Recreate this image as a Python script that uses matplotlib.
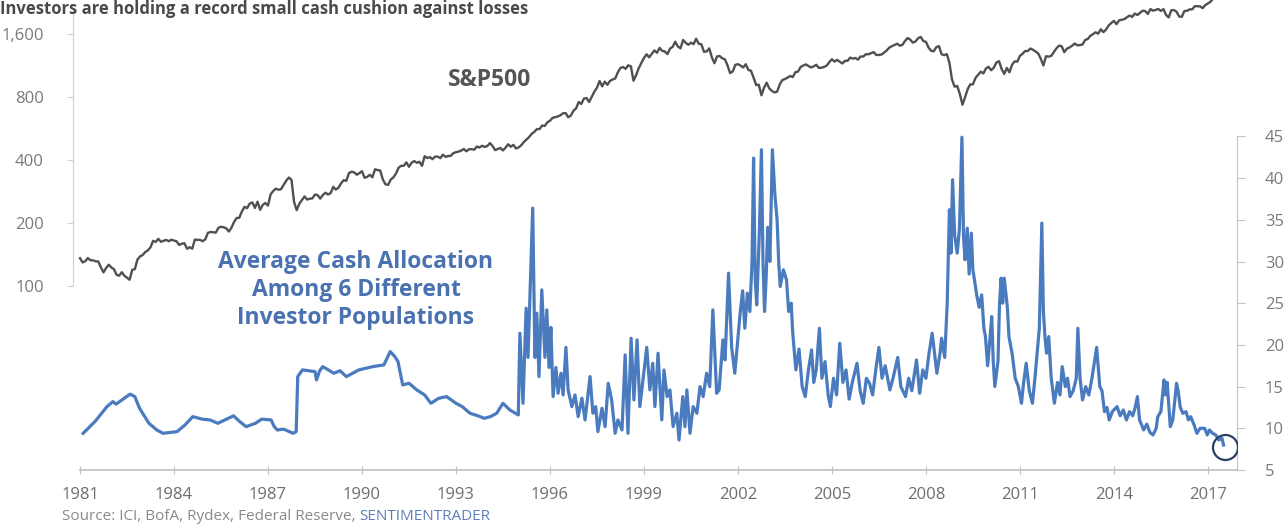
import matplotlib
matplotlib.use("Agg")
import matplotlib.pyplot as plt

# ---------------- data ----------------
title_text = "Investors are holding a record small cash cushion against losses"
source_text = "Source: ICI, BofA, Rydex, Federal Reserve, "
source_brand = "SENTIMENTRADER"

sp_start_year = 1981.0
sp_start_value = 135.8
# S&P 500 month-end closes, Jan 1981 .. Jul 2017
sp_monthly = [
    129.6, 131.3, 136.0, 132.8, 132.6, 131.2, 130.9, 122.8, 116.2, 121.9, 126.4, 122.6,
    120.4, 113.1, 112.0, 116.4, 111.9, 109.6, 107.1, 119.5, 120.4, 133.7, 138.5, 140.6,
    145.3, 148.1, 153.0, 164.4, 162.4, 168.1, 162.6, 164.4, 166.1, 163.6, 166.4, 164.9,
    163.4, 157.1, 159.2, 160.1, 150.6, 153.2, 150.7, 166.7, 166.1, 166.1, 163.6, 167.2,
    179.6, 181.2, 180.7, 179.8, 189.6, 191.9, 190.9, 188.6, 182.1, 189.8, 202.2, 211.3,
    211.8, 226.9, 238.9, 235.5, 247.4, 250.8, 236.1, 252.9, 231.3, 244.0, 249.2, 242.2,
    274.1, 284.2, 291.7, 288.4, 290.1, 304.0, 318.7, 329.8, 321.8, 251.8, 230.3, 247.1,
    257.1, 267.8, 258.9, 261.3, 262.2, 273.5, 272.0, 261.5, 271.9, 279.0, 273.7, 277.7,
    297.5, 288.9, 294.9, 309.6, 320.5, 318.0, 346.1, 351.5, 349.2, 340.4, 346.0, 353.4,
    329.1, 331.9, 339.9, 330.8, 361.2, 358.0, 356.2, 322.6, 306.1, 304.0, 322.2, 330.2,
    343.9, 367.1, 375.2, 375.3, 389.8, 371.2, 387.8, 395.4, 387.9, 392.5, 375.2, 417.1,
    408.8, 412.7, 403.7, 415.0, 415.4, 408.1, 424.2, 414.0, 417.8, 418.7, 431.4, 435.7,
    438.8, 443.4, 451.7, 440.2, 450.2, 450.5, 448.1, 463.6, 458.9, 467.8, 461.8, 466.5,
    481.6, 467.1, 445.8, 450.9, 456.5, 444.3, 458.3, 475.5, 462.7, 472.4, 453.7, 459.3,
    470.4, 487.4, 500.7, 514.7, 533.4, 544.8, 562.1, 561.9, 584.4, 581.5, 605.4, 615.9,
    636.0, 640.4, 645.5, 654.2, 669.1, 670.6, 640.0, 652.0, 687.3, 705.3, 757.0, 740.7,
    786.2, 790.8, 757.1, 801.3, 848.3, 885.1, 954.3, 899.5, 947.3, 914.6, 955.4, 970.4,
    980.3, 1049.3, 1101.8, 1111.8, 1090.8, 1133.8, 1120.7, 957.3, 1017.0, 1098.7, 1163.6, 1229.2,
    1279.6, 1238.3, 1286.4, 1335.2, 1301.8, 1372.7, 1328.7, 1320.4, 1282.7, 1362.9, 1388.9, 1469.3,
    1394.5, 1366.4, 1498.6, 1452.4, 1420.6, 1454.6, 1430.8, 1517.7, 1436.5, 1429.4, 1315.2, 1320.3,
    1366.0, 1239.9, 1160.3, 1249.5, 1255.8, 1224.4, 1211.2, 1133.6, 1040.9, 1059.8, 1139.5, 1148.1,
    1130.2, 1106.7, 1147.4, 1076.9, 1067.1, 989.8, 911.6, 916.1, 815.3, 885.8, 936.3, 879.8,
    855.7, 841.2, 848.2, 916.9, 963.6, 974.5, 990.3, 1008.0, 996.0, 1050.7, 1058.2, 1111.9,
    1131.1, 1144.9, 1126.2, 1107.3, 1120.7, 1140.8, 1101.7, 1104.2, 1114.6, 1130.2, 1173.8, 1211.9,
    1181.3, 1203.6, 1180.6, 1156.9, 1191.5, 1191.3, 1234.2, 1220.3, 1228.8, 1207.0, 1249.5, 1248.3,
    1280.1, 1280.7, 1294.8, 1310.6, 1270.1, 1270.2, 1276.7, 1303.8, 1335.9, 1377.9, 1400.6, 1418.3,
    1438.2, 1406.8, 1420.9, 1482.4, 1530.6, 1503.4, 1455.3, 1474.0, 1526.8, 1549.4, 1481.1, 1468.4,
    1378.6, 1330.6, 1322.7, 1385.6, 1400.4, 1280.0, 1267.4, 1282.8, 1166.4, 968.8, 896.2, 903.3,
    825.9, 735.1, 797.9, 872.8, 919.1, 919.3, 987.5, 1020.6, 1057.1, 1036.2, 1095.6, 1115.1,
    1073.9, 1104.5, 1169.4, 1186.7, 1089.4, 1030.7, 1101.6, 1049.3, 1141.2, 1183.3, 1180.6, 1257.6,
    1286.1, 1327.2, 1325.8, 1363.6, 1345.2, 1320.6, 1292.3, 1218.9, 1131.4, 1253.3, 1247.0, 1257.6,
    1312.4, 1365.7, 1408.5, 1397.9, 1310.3, 1362.2, 1379.3, 1406.6, 1440.7, 1412.2, 1416.2, 1426.2,
    1498.1, 1514.7, 1569.2, 1597.6, 1630.7, 1606.3, 1685.7, 1633.0, 1681.6, 1756.5, 1805.8, 1848.4,
    1782.6, 1859.5, 1872.3, 1884.0, 1923.6, 1960.2, 1930.7, 2003.4, 1972.3, 2018.1, 2067.6, 2058.9,
    1995.0, 2104.5, 2067.9, 2085.5, 2107.4, 2063.1, 2103.8, 1972.2, 1920.0, 2079.4, 2080.4, 2043.9,
    1940.2, 1932.2, 2059.7, 2065.3, 2097.0, 2098.9, 2173.6, 2171.0, 2168.3, 2126.2, 2198.8, 2238.8,
    2278.9, 2363.6, 2362.7, 2384.2, 2411.8, 2423.4, 2470.3,
]

cash_dates = [
    1981.1, 1981.5, 1981.86, 1982.05, 1982.15, 1982.3, 1982.6, 1982.75, 1982.9, 1983.05,
    1983.2, 1983.45, 1983.65, 1984.1, 1984.35, 1984.6, 1984.9, 1985.15, 1985.4, 1985.9,
    1986.1, 1986.3, 1986.6, 1986.8, 1987.1, 1987.2, 1987.3, 1987.5, 1987.8, 1987.9,
    1987.95, 1988.1, 1988.5, 1988.55, 1988.65, 1988.75, 1989.1, 1989.3, 1989.5, 1989.9,
    1990.35, 1990.7, 1990.9, 1991.05, 1991.15, 1991.3, 1991.5, 1991.75, 1992.0, 1992.2,
    1992.45, 1992.7, 1993.0, 1993.2, 1993.45, 1993.7, 1993.9, 1994.1, 1994.3, 1994.5,
    1994.72, 1994.99, 1995.04, 1995.14, 1995.24, 1995.3, 1995.45, 1995.52, 1995.58, 1995.65,
    1995.74, 1995.84, 1995.9, 1995.97, 1996.03, 1996.1, 1996.19, 1996.26, 1996.35, 1996.42,
    1996.51, 1996.58, 1996.7, 1996.8, 1996.9, 1997.02, 1997.12, 1997.28, 1997.37, 1997.46,
    1997.53, 1997.66, 1997.76, 1997.86, 1997.97, 1998.08, 1998.17, 1998.3, 1998.4, 1998.49,
    1998.59, 1998.68, 1998.78, 1998.87, 1998.97, 1999.09, 1999.19, 1999.28, 1999.35, 1999.45,
    1999.57, 1999.64, 1999.74, 1999.83, 1999.93, 2000.05, 2000.12, 2000.24, 2000.31, 2000.37,
    2000.47, 2000.57, 2000.69, 2000.79, 2000.89, 2001.0, 2001.1, 2001.2, 2001.32, 2001.4,
    2001.52, 2001.59, 2001.7, 2001.8, 2001.9, 2002.07, 2002.15, 2002.22, 2002.3, 2002.38,
    2002.45, 2002.5, 2002.55, 2002.6, 2002.68, 2002.75, 2002.8, 2002.85, 2002.9, 2002.95,
    2003.02, 2003.1, 2003.18, 2003.25, 2003.3, 2003.35, 2003.45, 2003.55, 2003.62, 2003.7,
    2003.75, 2003.85, 2003.95, 2004.05, 2004.15, 2004.25, 2004.35, 2004.42, 2004.5, 2004.6,
    2004.68, 2004.78, 2004.88, 2004.95, 2005.05, 2005.15, 2005.25, 2005.35, 2005.45, 2005.55,
    2005.65, 2005.8, 2005.9, 2006.0, 2006.1, 2006.2, 2006.3, 2006.4, 2006.5, 2006.6,
    2006.7, 2006.85, 2006.95, 2007.1, 2007.2, 2007.35, 2007.45, 2007.55, 2007.7, 2007.8,
    2007.9, 2008.0, 2008.1, 2008.2, 2008.35, 2008.45, 2008.5, 2008.6, 2008.68, 2008.75,
    2008.8, 2008.85, 2008.92, 2009.0, 2009.07, 2009.15, 2009.2, 2009.25, 2009.32, 2009.38,
    2009.45, 2009.5, 2009.55, 2009.62, 2009.7, 2009.78, 2009.85, 2009.9, 2009.97, 2010.05,
    2010.1, 2010.15, 2010.2, 2010.3, 2010.35, 2010.4, 2010.45, 2010.5, 2010.6, 2010.65,
    2010.75, 2010.85, 2010.95, 2011.05, 2011.12, 2011.2, 2011.3, 2011.4, 2011.48, 2011.55,
    2011.62, 2011.7, 2011.75, 2011.8, 2011.85, 2011.92, 2012.0, 2012.1, 2012.2, 2012.28,
    2012.35, 2012.45, 2012.52, 2012.6, 2012.7, 2012.8, 2012.85, 2012.92, 2013.0, 2013.1,
    2013.2, 2013.3, 2013.45, 2013.55, 2013.62, 2013.7, 2013.78, 2013.85, 2013.95, 2014.1,
    2014.2, 2014.3, 2014.4, 2014.5, 2014.6, 2014.68, 2014.75, 2014.82, 2014.95, 2015.05,
    2015.15, 2015.25, 2015.35, 2015.4, 2015.5, 2015.6, 2015.65, 2015.7, 2015.8, 2015.88,
    2016.0, 2016.05, 2016.12, 2016.2, 2016.3, 2016.38, 2016.45, 2016.55, 2016.65, 2016.75,
    2016.9, 2016.98, 2017.05, 2017.15, 2017.25, 2017.35, 2017.45, 2017.5,
]
cash_values = [
    9.4, 10.9, 12.6, 13.2, 12.9, 13.3, 14.1, 13.8, 12.4, 11.5,
    10.6, 9.8, 9.4, 9.6, 10.4, 11.4, 11.1, 11.0, 10.6, 11.5,
    10.8, 10.2, 10.6, 11.1, 11.0, 10.2, 9.8, 9.9, 9.4, 9.6,
    16.2, 17.0, 16.8, 15.8, 16.9, 17.4, 16.6, 16.9, 16.2, 17.0,
    17.4, 17.6, 19.2, 18.6, 18.0, 15.2, 15.4, 14.6, 14.0, 13.0,
    13.6, 13.8, 13.0, 12.6, 11.8, 11.5, 11.2, 11.4, 11.8, 13.0,
    12.2, 11.6, 21.4, 13.0, 24.4, 18.5, 36.4, 18.5, 23.8, 16.2,
    26.6, 18.5, 24.2, 17.3, 22.1, 13.8, 17.3, 14.2, 16.6, 14.0,
    19.7, 14.6, 12.6, 14.0, 11.4, 13.6, 11.0, 16.2, 11.8, 12.6,
    9.6, 12.4, 10.2, 15.4, 13.4, 9.4, 11.0, 9.8, 18.8, 9.4,
    20.8, 13.4, 20.6, 12.6, 15.8, 19.7, 14.6, 17.8, 12.6, 19.0,
    11.0, 17.0, 13.8, 14.6, 10.2, 11.8, 8.6, 13.8, 10.2, 14.6,
    9.4, 12.6, 11.8, 15.0, 13.8, 16.6, 15.0, 24.2, 14.2, 14.6,
    20.6, 18.2, 28.6, 19.7, 16.6, 23.8, 26.5, 22.0, 26.2, 24.0,
    30.0, 42.4, 28.0, 24.8, 33.0, 43.4, 30.0, 24.0, 28.0, 34.1,
    30.0, 43.4, 38.0, 35.0, 30.0, 27.0, 29.0, 27.8, 24.0, 25.0,
    21.4, 17.0, 19.5, 15.0, 13.8, 17.0, 19.4, 15.5, 17.0, 22.0,
    16.0, 18.0, 14.0, 12.6, 16.0, 14.0, 20.2, 15.5, 17.0, 13.5,
    15.5, 17.8, 14.5, 13.0, 16.0, 15.4, 14.0, 17.0, 19.7, 16.0,
    17.5, 14.6, 16.0, 18.5, 15.0, 13.8, 16.0, 14.5, 18.2, 14.2,
    17.0, 16.0, 19.0, 21.4, 16.6, 19.0, 20.8, 18.5, 25.0, 36.2,
    31.0, 39.8, 33.0, 31.0, 34.0, 44.9, 33.0, 30.2, 34.0, 28.5,
    33.4, 29.0, 27.8, 26.0, 24.5, 26.0, 22.0, 21.0, 17.5, 21.0,
    23.4, 18.0, 15.0, 18.0, 25.0, 28.0, 25.0, 28.0, 24.5, 21.0,
    19.0, 16.0, 15.0, 13.0, 15.5, 17.8, 14.5, 13.0, 16.0, 19.0,
    22.0, 34.6, 24.0, 21.0, 19.0, 21.0, 16.0, 13.0, 15.5, 14.0,
    17.4, 15.0, 16.0, 13.8, 14.5, 16.0, 22.0, 16.0, 13.4, 15.0,
    14.0, 16.0, 19.7, 15.0, 14.5, 12.0, 12.5, 11.0, 12.0, 12.6,
    11.5, 12.2, 11.0, 12.0, 11.5, 12.5, 13.8, 11.0, 9.8, 10.5,
    9.5, 9.2, 10.0, 11.4, 12.0, 15.8, 14.0, 15.5, 10.2, 11.0,
    15.4, 14.5, 12.5, 11.8, 12.0, 11.0, 11.4, 10.5, 9.4, 10.0,
    10.0, 9.2, 9.8, 9.4, 9.2, 8.6, 8.8, 8.0,
]
assert len(cash_dates) == len(cash_values)

latest_point = (2017.55, 7.8)

left_ticks = [100, 200, 400, 800, 1600]
left_tick_labels = ["100", "200", "400", "800", "1,600"]
right_ticks = [5, 10, 15, 20, 25, 30, 35, 40, 45]
x_ticks = [1981, 1984, 1987, 1990, 1993, 1996, 1999, 2002, 2005, 2008, 2011, 2014, 2017]

# ---------------- style ----------------
FONT = ["Open Sans", "DejaVu Sans"]
plt.rcParams["font.family"] = FONT
W, H = 1286, 525
grey_txt = "#7a7a7a"
sp_color = "#505050"
blue = "#4a7bbf"

fig = plt.figure(figsize=(W / 100, H / 100), dpi=100)
fig.patch.set_facecolor("white")

ax_left_px, ax_right_px, ax_bottom_px = 73, 1237, 470
ax = fig.add_axes([ax_left_px / W, (H - ax_bottom_px) / H,
                   (ax_right_px - ax_left_px) / W, ax_bottom_px / H])
ax2 = ax.twinx()

px_per_year = 31.33
x0 = 1981 - (80 - ax_left_px) / px_per_year
x1 = 1981 + (ax_right_px - 80) / px_per_year
ax.set_xlim(x0, x1)

# S&P (log, left)
sp_dates = [sp_start_year] + [sp_start_year + (i + 1) / 12 for i in range(len(sp_monthly))]
sp_vals = [sp_start_value] + sp_monthly
ax.plot(sp_dates, sp_vals, color=sp_color, lw=1.7, solid_joinstyle="round", zorder=3)
ax.set_yscale("log")
px_per_doubling = 63.0
ax.set_ylim(100 / 2 ** ((470 - 286) / px_per_doubling), 1600 * 2 ** (34 / px_per_doubling))
ax.set_yticks(left_ticks)
ax.set_yticklabels(left_tick_labels)
ax.yaxis.set_minor_locator(matplotlib.ticker.NullLocator())

# Cash (linear, right)
ax2.plot(cash_dates, cash_values, color=blue, lw=2.3, solid_joinstyle="round", zorder=3)
px_per_unit = 8.34
ax2.set_ylim(5, 5 + 470 / px_per_unit)
ax2.set_yticks(right_ticks)
ax2.plot([latest_point[0]], [latest_point[1]], marker="o", ms=18, mfc="none",
         mec="#2c3f66", mew=1.6, zorder=4)

# spines
for s in ["top", "right"]:
    ax.spines[s].set_visible(False)
for s in ["top", "left", "bottom"]:
    ax2.spines[s].set_visible(False)
ax.spines["left"].set_color("#d0d0d0")
ax.spines["left"].set_bounds(100, 1600 * 2 ** (24 / px_per_doubling))
ax.spines["bottom"].set_color("#c0c0c0")
ax.spines["bottom"].set_linewidth(1.2)
ax.spines["bottom"].set_bounds(1981, x1)
ax2.spines["right"].set_color("#b9c5d9")
ax2.spines["right"].set_bounds(5, 45)

ax.set_xticks(x_ticks)
ax.set_xticklabels([str(t) for t in x_ticks])
ax.tick_params(axis="x", direction="inout", length=6, color="#c0c0c0",
               labelsize=12, labelcolor="#6e6e6e", pad=9)
ax.tick_params(axis="y", direction="out", length=4, color="#d0d0d0",
               labelsize=12, labelcolor=grey_txt, pad=17)
ax2.tick_params(axis="y", direction="out", length=6, color="#b9c5d9",
                labelsize=12, labelcolor=grey_txt, pad=14)

# texts
fig.text(0.0, 1 - 14 / H, title_text, ha="left", va="baseline",
         fontsize=12, fontweight="bold", color="#4a4a4a")
fig.text(490 / W, 1 - 80 / H, "S&P500", ha="center", va="center",
         fontsize=16.5, fontweight="bold", color="#555555")
fig.text(356 / W, 1 - 290 / H, "Average Cash Allocation\nAmong 6 Different\nInvestor Populations",
         ha="center", va="center", fontsize=16.5, fontweight="bold", color="#4a72b0",
         linespacing=1.2)

t1 = fig.text(62 / W, 1 - 517 / H, source_text, ha="left", va="center",
              fontsize=11, color="#8a8a8a")
fig.canvas.draw()
bb = t1.get_window_extent()
fig.text(bb.x1 / W, 1 - 517 / H, source_brand, ha="left", va="center",
         fontsize=11, color="#5b7fb8")

fig.savefig("out.png", dpi=100, facecolor="white")
